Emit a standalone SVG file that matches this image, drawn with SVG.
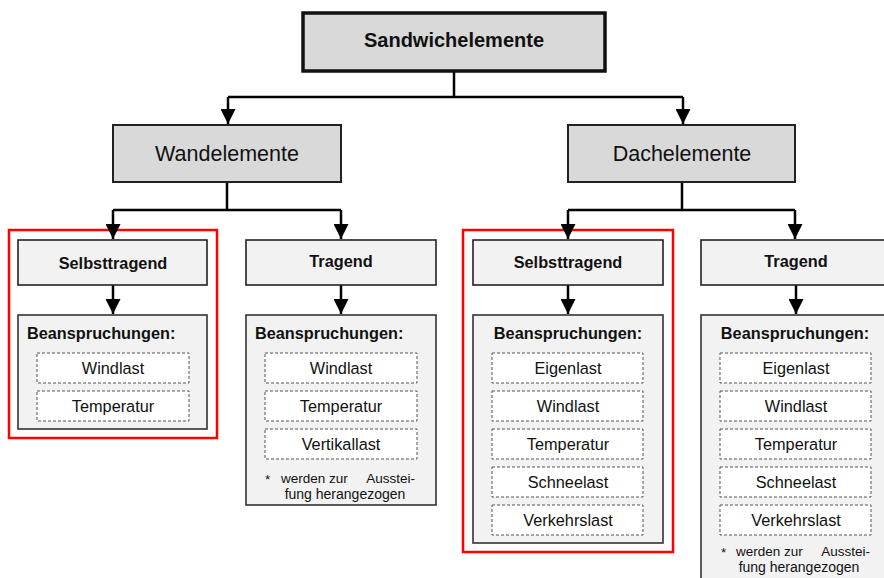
<svg xmlns="http://www.w3.org/2000/svg" width="884" height="578" viewBox="0 0 884 578">
<defs>
<marker id="ah" markerUnits="userSpaceOnUse" markerWidth="15" markerHeight="15" refX="14" refY="7" orient="auto" viewBox="0 0 14 14">
<path d="M0,0 L14,7 L0,14 z" fill="#000"/>
</marker>
<style>
text{font-family:"Liberation Sans",Arial,sans-serif;fill:#111}
.b{font-weight:bold}
.c{text-anchor:middle}
.e{text-anchor:end}
.l1{fill:#d9d9d9;stroke:#111;stroke-width:3.5}
.l2{fill:#d9d9d9;stroke:#222;stroke-width:2}
.l3{fill:#f2f2f2;stroke:#222;stroke-width:1.6}
.bx{fill:#f2f2f2;stroke:#333;stroke-width:1.6}
.d{fill:#fff;stroke:#555;stroke-width:1;stroke-dasharray:3,2}
.red{fill:none;stroke:#f00;stroke-width:2.5}
.cn{fill:none;stroke:#000;stroke-width:2.5}
.t16{font-size:16.3px}
.fn{font-size:13.5px}
.fn2{font-size:14px}
</style>
</defs>

<g id="frames">
<rect class="red" x="9" y="230" width="208" height="208"/>
<rect class="red" x="463" y="230" width="210" height="322"/>
</g>

<g id="connectors">
<path class="cn" d="M454,71 V97 M228,97 H683"/>
<path class="cn" d="M228,97 V124" marker-end="url(#ah)"/>
<path class="cn" d="M683,97 V124" marker-end="url(#ah)"/>
<path class="cn" d="M227,182 V210 M113,210 H341"/>
<path class="cn" d="M113,210 V239" marker-end="url(#ah)"/>
<path class="cn" d="M341,210 V239" marker-end="url(#ah)"/>
<path class="cn" d="M682,182 V210 M568,210 H795"/>
<path class="cn" d="M568,210 V239" marker-end="url(#ah)"/>
<path class="cn" d="M795,210 V239" marker-end="url(#ah)"/>
<path class="cn" d="M113,285 V314" marker-end="url(#ah)"/>
<path class="cn" d="M341,285 V314" marker-end="url(#ah)"/>
<path class="cn" d="M568,285 V314" marker-end="url(#ah)"/>
<path class="cn" d="M796,285 V314" marker-end="url(#ah)"/>
</g>

<g id="sandwichelemente">
<rect class="l1" x="303" y="13" width="302" height="58"/>
<text class="b c" x="454" y="47" font-size="20">Sandwichelemente</text>
</g>

<g id="wandelemente">
<rect class="l2" x="113" y="125" width="228" height="57"/>
<text class="c" x="227" y="161" font-size="21.5">Wandelemente</text>
</g>

<g id="dachelemente">
<rect class="l2" x="568" y="125" width="227" height="57"/>
<text class="c" x="682" y="161" font-size="21.5">Dachelemente</text>
</g>

<g id="wand-selbsttragend">
<rect class="l3" x="18" y="240" width="189" height="45"/>
<text class="b c t16" x="113" y="269">Selbsttragend</text>
</g>

<g id="wand-tragend">
<rect class="l3" x="246" y="240" width="190" height="45"/>
<text class="b c t16" x="341" y="267">Tragend</text>
</g>

<g id="dach-selbsttragend">
<rect class="l3" x="473" y="240" width="190" height="45"/>
<text class="b c t16" x="568" y="268">Selbsttragend</text>
</g>

<g id="dach-tragend">
<rect class="l3" x="701" y="240" width="190" height="45"/>
<text class="b c t16" x="796" y="267">Tragend</text>
</g>

<g id="wand-selbsttragend-beanspruchungen">
<rect class="bx" x="18" y="315" width="189" height="114"/>
<text class="b t16" x="27" y="339">Beanspruchungen:</text>
<rect class="d" x="37" y="353" width="152" height="30"/>
<text class="c t16" x="113" y="374">Windlast</text>
<rect class="d" x="37" y="391" width="152" height="30"/>
<text class="c t16" x="113" y="412">Temperatur</text>
</g>

<g id="wand-tragend-beanspruchungen">
<rect class="bx" x="246" y="315" width="190" height="190"/>
<text class="b t16" x="255" y="339">Beanspruchungen:</text>
<rect class="d" x="265" y="353" width="152" height="30"/>
<text class="c t16" x="341" y="374">Windlast</text>
<rect class="d" x="265" y="391" width="152" height="30"/>
<text class="c t16" x="341" y="412">Temperatur</text>
<rect class="d" x="265" y="429" width="152" height="30"/>
<text class="c t16" x="341" y="450">Vertikallast</text>
<text class="fn" x="265" y="484">*</text>
<text class="fn" x="281" y="483">werden</text>
<text class="fn" x="329" y="483">zur</text>
<text class="fn e" x="415" y="483">Ausstei-</text>
<text class="fn2 c" x="345" y="499">fung herangezogen</text>
</g>

<g id="dach-selbsttragend-beanspruchungen">
<rect class="bx" x="473" y="315" width="190" height="228"/>
<text class="b c t16" x="568" y="339">Beanspruchungen:</text>
<rect class="d" x="492" y="353" width="151" height="30"/>
<text class="c t16" x="568" y="374">Eigenlast</text>
<rect class="d" x="492" y="391" width="151" height="30"/>
<text class="c t16" x="568" y="412">Windlast</text>
<rect class="d" x="492" y="429" width="151" height="30"/>
<text class="c t16" x="568" y="450">Temperatur</text>
<rect class="d" x="492" y="467" width="151" height="30"/>
<text class="c t16" x="568" y="488">Schneelast</text>
<rect class="d" x="492" y="505" width="151" height="30"/>
<text class="c t16" x="568" y="526">Verkehrslast</text>
</g>

<g id="dach-tragend-beanspruchungen">
<rect class="bx" x="701" y="315" width="190" height="280"/>
<text class="b c t16" x="795" y="339">Beanspruchungen:</text>
<rect class="d" x="720" y="353" width="151" height="30"/>
<text class="c t16" x="796" y="374">Eigenlast</text>
<rect class="d" x="720" y="391" width="151" height="30"/>
<text class="c t16" x="796" y="412">Windlast</text>
<rect class="d" x="720" y="429" width="151" height="30"/>
<text class="c t16" x="796" y="450">Temperatur</text>
<rect class="d" x="720" y="467" width="151" height="30"/>
<text class="c t16" x="796" y="488">Schneelast</text>
<rect class="d" x="720" y="505" width="151" height="30"/>
<text class="c t16" x="796" y="526">Verkehrslast</text>
<text class="fn" x="721" y="557">*</text>
<text class="fn" x="736" y="556">werden</text>
<text class="fn" x="784" y="556">zur</text>
<text class="fn e" x="870" y="556">Ausstei-</text>
<text class="fn2 c" x="799" y="572">fung herangezogen</text>
</g>
</svg>
